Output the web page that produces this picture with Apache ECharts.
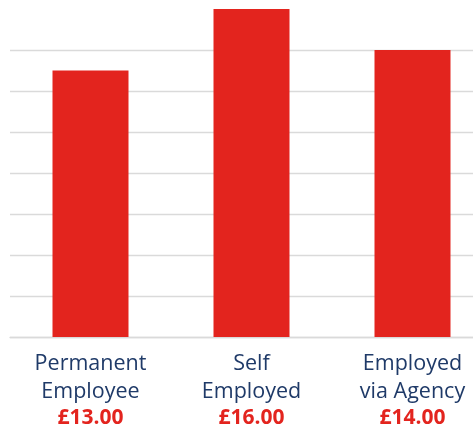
<!DOCTYPE html>
<html>
<head>
<meta charset="utf-8">
<script src="https://cdn.jsdelivr.net/npm/echarts@6/dist/echarts.min.js"></script>
<style>
html,body{margin:0;padding:0;background:#fff;}
#c{width:473px;height:425px;}
</style>
</head>
<body>
<div id="c"></div>
<script>
const categories = ['Permanent\nEmployee', 'Self\nEmployed', 'Employed\nvia Agency'];
const values = [13, 16, 14];
const yTicks = [0, 2, 4, 6, 8, 10, 12, 14, 16];

const chart = echarts.init(document.getElementById('c'), null, {renderer: 'canvas'});
chart.setOption({
  animation: false,
  grid: {left: 10, width: 483, top: 9, bottom: 88, containLabel: false, outerBoundsMode: 'none'},
  xAxis: {
    type: 'category',
    data: categories,
    axisLine: {show: true, lineStyle: {color: '#dadada', width: 1.3}},
    axisTick: {show: false},
    axisLabel: {
      margin: 13,
      interval: 0,
      hideOverlap: false,
      formatter: function (val, idx) {
        const lines = val.split('\n').map(s => '{a|' + s + '}');
        return lines.join('\n') + '\n{b|£' + values[idx].toFixed(2) + '}';
      },
      rich: {
        a: {fontFamily: 'Open Sans', fontSize: 21.5, fontWeight: 500, color: '#1f3a68', lineHeight: 28, align: 'center'},
        b: {fontFamily: 'Open Sans', fontSize: 21, fontWeight: 'bold', color: '#e3241e', lineHeight: 24, align: 'center'}
      }
    }
  },
  yAxis: {
    type: 'value',
    min: yTicks[0],
    max: yTicks[yTicks.length - 1],
    interval: 2,
    axisLabel: {show: false},
    axisLine: {show: false},
    axisTick: {show: false},
    splitLine: {show: true, showMaxLine: false, lineStyle: {color: '#dadada', width: 1.3}}
  },
  series: [{
    type: 'bar',
    data: values,
    barWidth: 76,
    itemStyle: {color: '#e3241e'}
  }]
});
</script>
</body>
</html>
